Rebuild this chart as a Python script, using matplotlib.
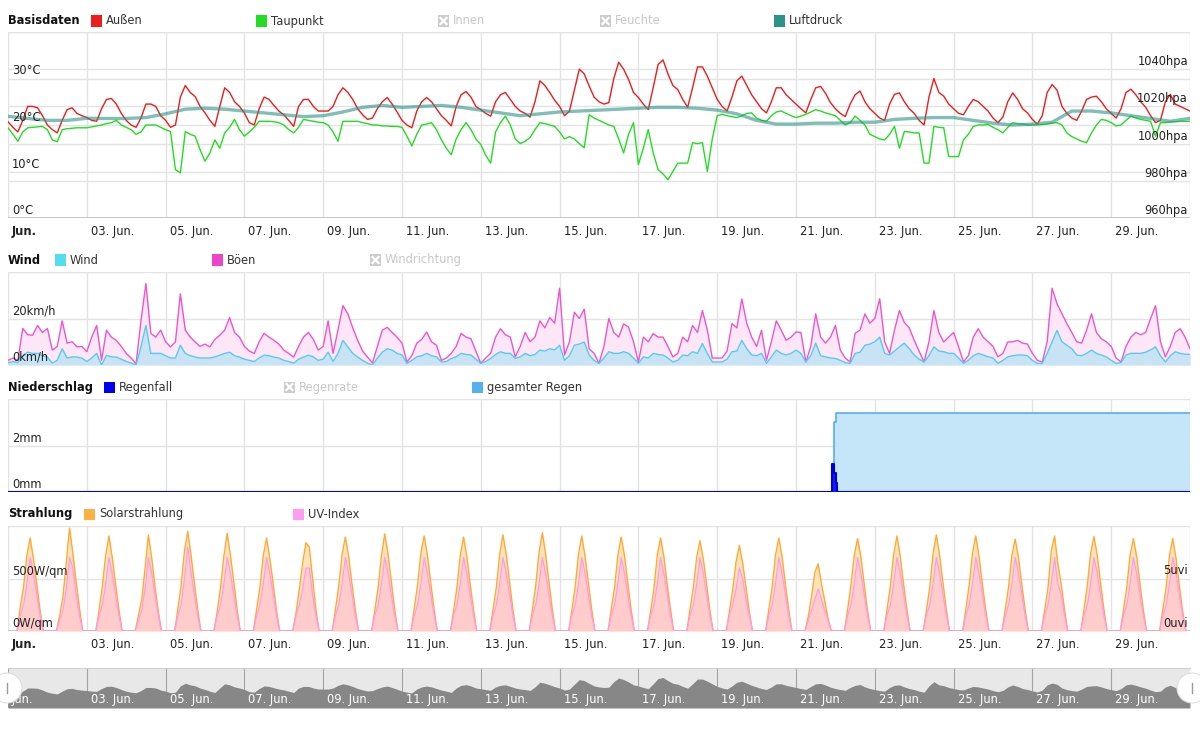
import matplotlib
matplotlib.use("Agg")
import matplotlib.pyplot as plt
import matplotlib.dates as mdates
import matplotlib.transforms as mtransforms
from matplotlib.patches import Rectangle, Circle
import pandas as pd

# ---- data (June, 3-hourly unless noted) ----
temp_out = [
    20.7, 19.5, 18.5, 21.0, 24.0, 24.0, 23.7, 22.0,
    20.0, 19.0, 18.3, 21.0, 23.3, 23.7, 22.5, 22.0,
    21.6, 21.0, 20.8, 23.5, 25.5, 25.7, 24.5, 22.5,
    21.0, 20.0, 19.5, 21.5, 24.5, 24.5, 24.0, 22.0,
    21.0, 19.5, 20.0, 26.0, 28.5, 27.0, 26.1, 24.0,
    22.6, 21.0, 19.7, 24.0, 28.0, 27.0, 25.0, 24.0,
    22.6, 20.5, 20.0, 23.5, 26.0, 25.5, 24.2, 23.0,
    22.2, 21.0, 19.7, 24.0, 25.5, 25.5, 24.0, 23.0,
    23.0, 23.0, 24.0, 26.5, 28.0, 27.0, 25.5, 23.5,
    22.2, 21.2, 21.5, 23.5, 25.0, 25.9, 24.5, 22.8,
    21.0, 20.0, 19.4, 23.0, 25.0, 25.9, 25.0, 23.5,
    22.0, 21.0, 19.8, 24.0, 26.5, 27.2, 26.0, 24.0,
    23.3, 22.5, 21.9, 25.0, 26.5, 27.0, 25.5, 24.0,
    23.0, 22.5, 21.7, 25.0, 29.5, 28.5, 27.0, 25.3,
    24.0, 22.0, 23.0, 27.5, 32.0, 31.0, 28.4, 26.0,
    25.0, 24.5, 24.8, 30.0, 33.5, 32.0, 29.8, 27.0,
    25.9, 24.5, 23.3, 28.0, 33.0, 34.0, 31.0, 28.5,
    27.6, 25.5, 23.8, 28.0, 32.5, 32.5, 30.5, 28.0,
    25.5, 24.0, 23.0, 26.0, 29.5, 30.5, 28.5, 26.5,
    25.0, 23.5, 22.6, 25.0, 28.0, 28.0, 26.5, 25.5,
    24.5, 23.5, 22.6, 25.5, 28.0, 28.3, 26.8, 24.8,
    23.5, 22.5, 21.8, 24.5, 26.5, 27.3, 25.0, 23.5,
    22.5, 21.5, 21.0, 24.5, 26.6, 26.9, 25.0, 23.5,
    22.5, 21.0, 20.0, 26.0, 30.0, 27.0, 26.2, 24.5,
    23.5, 22.5, 22.2, 24.0, 25.5, 25.0, 24.0, 23.0,
    21.5, 20.5, 21.7, 25.0, 26.9, 25.5, 23.5, 22.6,
    21.2, 20.2, 22.0, 27.0, 28.7, 27.5, 24.0, 22.5,
    21.5, 21.0, 23.0, 25.5, 26.0, 26.2, 25.0, 23.5,
    22.5, 21.5, 23.5, 27.0, 27.7, 26.5, 25.0, 23.8,
    22.0, 20.5, 21.0, 25.0, 26.6, 24.5, 24.0, 23.5,
    23.0,
]

dew_point = [
    19.4, 18.0, 16.5, 18.5, 19.4, 19.5, 19.6, 19.7,
    19.0, 16.8, 16.4, 19.0, 19.2, 19.3, 19.4, 19.4,
    19.4, 19.6, 19.8, 20.0, 20.3, 20.5, 21.0, 20.0,
    19.5, 19.0, 18.0, 18.5, 20.0, 20.0, 20.0, 19.5,
    19.0, 18.6, 10.4, 9.7, 18.6, 18.0, 17.6, 14.7,
    12.2, 14.0, 16.8, 15.0, 18.3, 19.5, 21.2, 19.0,
    17.6, 18.5, 19.5, 20.8, 20.8, 20.8, 20.7, 20.5,
    20.0, 19.0, 18.3, 19.5, 21.2, 21.0, 20.8, 20.6,
    20.5, 20.0, 18.5, 16.5, 20.8, 20.8, 20.8, 20.8,
    20.5, 20.3, 20.0, 20.0, 19.8, 19.8, 19.7, 19.7,
    19.5, 17.6, 15.5, 18.0, 20.0, 20.2, 20.5, 19.0,
    16.8, 15.0, 13.6, 17.0, 19.0, 20.5, 19.0, 17.0,
    15.8, 13.5, 11.8, 18.5, 20.5, 21.9, 20.0, 17.0,
    16.0, 16.5, 17.3, 19.0, 20.5, 20.3, 20.0, 19.7,
    18.5, 17.0, 17.5, 17.0, 16.0, 15.1, 22.2, 21.5,
    21.0, 20.5, 20.0, 19.7, 17.0, 14.0, 18.0, 20.5,
    11.5, 15.0, 19.0, 14.0, 10.4, 9.5, 8.2, 10.0,
    11.8, 11.8, 11.8, 16.2, 16.0, 16.2, 10.0, 17.0,
    22.0, 22.3, 22.0, 21.8, 21.6, 22.0, 22.5, 22.6,
    21.5, 21.0, 20.8, 22.0, 22.8, 23.0, 22.5, 22.0,
    21.6, 21.9, 22.3, 22.8, 23.3, 23.0, 22.6, 22.3,
    22.0, 21.0, 20.0, 20.5, 21.9, 21.0, 20.0, 18.0,
    17.5, 17.0, 16.8, 18.0, 19.7, 15.0, 18.6, 18.5,
    18.3, 18.3, 11.8, 11.8, 19.7, 19.5, 19.4, 13.2,
    13.2, 13.2, 16.8, 18.0, 19.7, 20.0, 20.0, 20.1,
    19.5, 19.0, 18.3, 19.5, 20.5, 20.3, 20.2, 20.0,
    20.0, 20.0, 20.1, 20.2, 20.4, 20.5, 20.0, 18.3,
    17.5, 17.0, 16.5, 16.2, 18.3, 20.0, 21.2, 21.0,
    20.5, 19.8, 20.0, 21.0, 21.9, 21.5, 21.2, 21.0,
    20.8, 17.6, 20.5, 20.5, 20.7, 20.7, 20.8, 20.8,
    20.8,
]

# 12-hourly
pressure = [
    1014.7, 1013.5, 1012.5, 1012.5, 1013.6, 1013.5, 1013.5, 1014.0,
    1016.0, 1018.5, 1019.0, 1018.5, 1017.5, 1016.5, 1015.5, 1014.5,
    1015.0, 1017.0, 1019.5, 1020.5, 1019.5, 1020.0, 1020.5, 1019.5,
    1018.0, 1016.5, 1015.0, 1016.0, 1017.0, 1017.5, 1018.0, 1018.5,
    1019.0, 1019.5, 1019.5, 1019.0, 1018.0, 1016.0, 1012.5, 1010.5,
    1010.5, 1011.0, 1011.0, 1011.5, 1011.5, 1013.0, 1013.6, 1014.0,
    1014.0, 1012.5, 1011.0, 1010.0, 1010.5, 1011.5, 1017.5, 1017.5,
    1016.5, 1015.0, 1013.5, 1012.0, 1013.6,
]

wind = [
    1.0, 1.5, 1.0, 4.2, 5.5, 5.0, 5.0, 4.0,
    3.4, 0.8, 2.0, 7.0, 3.0, 3.5, 3.4, 3.0,
    1.5, 3.0, 5.0, 0.0, 4.2, 3.5, 3.4, 2.5,
    1.5, 0.8, 0.0, 7.8, 17.0, 5.0, 5.0, 5.0,
    4.0, 3.0, 3.0, 8.5, 5.0, 4.0, 3.4, 3.0,
    3.0, 3.0, 3.5, 4.2, 5.0, 5.5, 4.0, 3.4,
    2.5, 2.0, 1.5, 3.0, 4.2, 4.0, 3.4, 3.0,
    2.0, 1.5, 0.8, 2.5, 3.4, 4.2, 3.5, 2.0,
    2.5, 5.5, 1.5, 5.0, 10.6, 7.8, 5.0, 3.4,
    2.0, 0.8, 0.0, 3.0, 5.5, 7.0, 6.4, 5.0,
    4.3, 0.7, 2.0, 3.5, 4.0, 5.0, 4.0, 3.5,
    1.3, 1.5, 2.8, 3.5, 5.0, 4.5, 4.3, 2.5,
    0.7, 1.5, 2.8, 4.5, 5.7, 5.0, 5.0, 2.8,
    3.5, 5.0, 4.0, 4.5, 6.4, 6.0, 7.0, 6.5,
    8.5, 2.0, 4.0, 8.5, 9.0, 9.9, 4.3, 2.0,
    0.7, 3.0, 5.7, 5.0, 5.0, 5.7, 5.0, 3.0,
    0.7, 3.5, 3.0, 5.0, 4.5, 4.3, 3.0, 1.3,
    2.0, 4.3, 4.0, 5.7, 5.0, 9.2, 5.0, 1.3,
    1.3, 1.3, 2.5, 5.7, 6.0, 10.6, 7.0, 4.3,
    4.0, 5.0, 0.7, 3.5, 6.4, 5.0, 4.3, 5.0,
    6.4, 5.0, 1.3, 4.0, 9.4, 4.0, 3.5, 3.0,
    2.8, 2.0, 1.0, 0.7, 5.0, 5.5, 8.5, 9.0,
    10.0, 12.0, 5.0, 4.3, 6.0, 7.8, 9.4, 7.0,
    4.3, 2.5, 1.3, 4.0, 7.8, 6.0, 5.7, 5.0,
    5.0, 3.0, 0.7, 2.0, 4.0, 5.0, 4.3, 3.5,
    3.0, 0.7, 2.0, 3.5, 4.0, 4.3, 4.3, 4.0,
    2.0, 0.7, 0.7, 5.0, 9.9, 14.9, 10.0, 8.5,
    7.0, 4.3, 4.0, 5.0, 6.4, 5.0, 4.3, 3.5,
    2.0, 0.7, 1.0, 4.3, 5.0, 5.0, 5.0, 5.5,
    6.5, 7.8, 4.0, 1.3, 4.0, 5.7, 5.0, 4.6,
    4.6,
]

gusts = [
    2.0, 3.0, 2.0, 15.7, 13.0, 12.8, 17.0, 14.0,
    15.7, 6.4, 8.0, 19.0, 9.4, 10.0, 7.8, 8.0,
    5.7, 12.0, 17.0, 2.1, 15.0, 12.0, 10.6, 8.0,
    5.0, 3.0, 0.5, 19.0, 35.0, 13.6, 12.0, 15.0,
    10.0, 7.8, 10.0, 30.6, 15.0, 12.0, 9.9, 8.0,
    9.0, 7.8, 11.0, 12.8, 15.0, 20.4, 14.0, 12.0,
    8.0, 6.0, 5.0, 10.0, 13.6, 12.0, 10.6, 9.0,
    6.4, 5.0, 3.4, 8.0, 12.0, 14.0, 11.0, 6.4,
    8.0, 19.0, 5.0, 15.0, 25.5, 22.0, 16.0, 10.6,
    6.0, 3.4, 0.9, 8.0, 15.0, 16.2, 14.0, 12.0,
    9.4, 1.3, 4.0, 9.4, 11.0, 14.2, 10.0, 8.5,
    2.0, 3.0, 5.0, 8.0, 13.6, 12.0, 11.3, 6.0,
    0.7, 3.0, 5.0, 12.0, 15.6, 13.0, 12.0, 3.5,
    8.0, 14.0, 10.0, 12.0, 19.0, 16.0, 20.4, 18.0,
    33.0, 4.3, 10.0, 22.7, 20.0, 24.0, 7.0, 5.0,
    0.7, 8.0, 20.0, 14.0, 12.0, 17.7, 16.3, 10.0,
    1.3, 12.0, 10.0, 13.5, 12.0, 12.0, 8.0, 3.5,
    5.0, 12.0, 10.0, 17.0, 14.0, 23.4, 15.0, 3.0,
    3.0, 3.0, 6.0, 17.8, 16.0, 28.4, 18.0, 12.0,
    8.0, 14.9, 2.0, 10.0, 19.0, 15.0, 10.6, 12.0,
    14.2, 14.0, 1.3, 8.0, 22.0, 12.0, 9.4, 12.0,
    17.0, 6.4, 3.0, 1.3, 13.6, 15.0, 22.0, 18.0,
    20.0, 28.5, 10.0, 5.0, 15.0, 23.4, 18.3, 16.0,
    10.6, 6.0, 1.3, 10.0, 23.4, 14.0, 9.9, 12.0,
    14.0, 8.0, 1.3, 4.0, 12.0, 15.6, 12.0, 10.0,
    8.0, 3.5, 5.0, 9.9, 10.0, 10.6, 9.4, 9.0,
    5.0, 2.0, 1.3, 10.0, 33.0, 26.3, 22.0, 17.8,
    14.0, 10.0, 9.4, 15.0, 22.0, 14.0, 11.3, 10.0,
    8.0, 3.0, 1.3, 8.0, 12.0, 14.0, 13.0, 14.0,
    20.0, 25.5, 10.0, 3.5, 8.0, 14.0, 15.6, 12.0,
    7.0,
]

# rain event in the night 21./22. June
rain_times = ["2019-06-01 00:00", "2019-06-21 22:00", "2019-06-21 23:15",
              "2019-06-22 00:20", "2019-06-22 01:10", "2019-07-01 00:00"]
rain_fall = [0.0, 1.2, 0.8, 0.4, 0.0, 0.0]
total_times = ["2019-06-01 00:00", "2019-06-21 23:25", "2019-06-22 00:05",
               "2019-07-01 00:00"]
total_rain = [0.0, 3.0, 3.4, 3.4]

# radiation: one row per day, values at these local hours
rad_hours = [5.5, 7.5, 9.5, 11.5, 13.5, 15.5, 17.5, 19.5, 21.5]
solar_rows = [
    [0, 230, 420, 720, 885, 690, 450, 200, 0],
    [0, 150, 330, 660, 980, 740, 470, 220, 0],
    [0, 200, 430, 720, 905, 700, 450, 210, 0],
    [0, 150, 300, 600, 915, 700, 430, 190, 0],
    [0, 210, 440, 760, 950, 720, 460, 210, 0],
    [0, 190, 420, 710, 930, 720, 470, 210, 0],
    [0, 210, 420, 720, 885, 690, 450, 200, 0],
    [0, 180, 400, 650, 840, 800, 500, 210, 0],
    [0, 210, 430, 730, 895, 710, 450, 210, 0],
    [0, 200, 420, 720, 925, 730, 470, 210, 0],
    [0, 220, 440, 740, 905, 720, 460, 210, 0],
    [0, 200, 420, 720, 895, 710, 450, 210, 0],
    [0, 210, 420, 730, 915, 730, 470, 210, 0],
    [0, 210, 440, 750, 935, 730, 470, 210, 0],
    [0, 200, 420, 730, 905, 710, 460, 210, 0],
    [0, 210, 420, 720, 895, 720, 460, 210, 0],
    [0, 190, 410, 720, 885, 710, 450, 210, 0],
    [0, 210, 420, 700, 860, 690, 450, 200, 0],
    [0, 190, 400, 660, 815, 650, 420, 190, 0],
    [0, 210, 420, 720, 885, 710, 450, 210, 0],
    [0, 140, 330, 560, 640, 450, 290, 120, 0],
    [0, 210, 440, 720, 880, 710, 450, 200, 0],
    [0, 210, 430, 730, 905, 710, 450, 210, 0],
    [0, 200, 420, 740, 915, 720, 460, 210, 0],
    [0, 210, 440, 740, 905, 710, 450, 210, 0],
    [0, 210, 420, 720, 875, 700, 450, 210, 0],
    [0, 200, 410, 760, 905, 640, 450, 210, 0],
    [0, 210, 440, 740, 900, 720, 460, 210, 0],
    [0, 200, 420, 720, 880, 710, 450, 210, 0],
    [0, 210, 420, 720, 880, 690, 430, 190, 0],
]
uv_rows = [
    [0, 1.5, 2.5, 4.5, 7, 5.5, 3.5, 1.5, 0],
    [0, 1.0, 2.0, 4.0, 7, 6.0, 3.5, 1.5, 0],
    [0, 1.5, 2.5, 4.5, 7, 5.5, 3.5, 1.5, 0],
    [0, 1.0, 2.0, 4.0, 7, 5.5, 3.5, 1.5, 0],
    [0, 1.5, 2.5, 5.0, 8, 5.5, 3.5, 1.5, 0],
    [0, 1.5, 2.5, 4.5, 7, 5.5, 3.5, 1.5, 0],
    [0, 1.5, 2.5, 4.5, 7, 5.5, 3.5, 1.5, 0],
    [0, 1.5, 2.5, 4.0, 6, 6.0, 3.5, 1.5, 0],
    [0, 1.5, 2.5, 4.5, 7, 5.5, 3.5, 1.5, 0],
    [0, 1.5, 2.5, 4.5, 7, 5.5, 3.5, 1.5, 0],
    [0, 1.5, 2.5, 4.5, 7, 5.5, 3.5, 1.5, 0],
    [0, 1.5, 2.5, 4.5, 7, 5.5, 3.5, 1.5, 0],
    [0, 1.5, 2.5, 4.5, 7, 5.5, 3.5, 1.5, 0],
    [0, 1.5, 2.5, 4.5, 7, 5.5, 3.5, 1.5, 0],
    [0, 1.5, 2.5, 4.5, 7, 5.5, 3.5, 1.5, 0],
    [0, 1.5, 2.5, 4.5, 7, 5.5, 3.5, 1.5, 0],
    [0, 1.5, 2.5, 4.5, 7, 5.5, 3.5, 1.5, 0],
    [0, 1.5, 2.5, 4.5, 7, 5.5, 3.5, 1.5, 0],
    [0, 1.5, 2.5, 4.0, 6, 5.0, 3.0, 1.5, 0],
    [0, 1.5, 2.5, 4.5, 7, 5.5, 3.5, 1.5, 0],
    [0, 1.0, 2.0, 3.0, 4, 3.0, 2.0, 1.0, 0],
    [0, 1.5, 2.5, 4.5, 7, 5.5, 3.5, 1.5, 0],
    [0, 1.5, 2.5, 4.5, 7, 5.5, 3.5, 1.5, 0],
    [0, 1.5, 2.5, 4.5, 7, 5.5, 3.5, 1.5, 0],
    [0, 1.5, 2.5, 4.5, 7, 5.5, 3.5, 1.5, 0],
    [0, 1.5, 2.5, 4.5, 7, 5.5, 3.5, 1.5, 0],
    [0, 1.5, 2.5, 4.5, 7, 4.5, 3.5, 1.5, 0],
    [0, 1.5, 2.5, 4.5, 7, 5.5, 3.5, 1.5, 0],
    [0, 1.5, 2.5, 4.5, 7, 5.5, 3.5, 1.5, 0],
    [0, 1.5, 2.5, 4.5, 7, 5.5, 3.5, 1.5, 0],
]

# ---- time bases ----
T0 = pd.Timestamp("2019-06-01")
T1 = pd.Timestamp("2019-07-01")
t3 = pd.date_range(T0, periods=len(temp_out), freq="3h").to_pydatetime()
t12 = pd.date_range(T0, periods=len(pressure), freq="12h").to_pydatetime()
rad_t = [(T0 + pd.Timedelta(days=d, hours=h)).to_pydatetime()
         for d in range(len(solar_rows)) for h in rad_hours]
solar = [v for row in solar_rows for v in row]
uv = [v for row in uv_rows for v in row]
rain_t = pd.to_datetime(rain_times).to_pydatetime()
total_t = pd.to_datetime(total_times).to_pydatetime()
ticks = pd.date_range(T0, T1, freq="2D").to_pydatetime()

plt.rcParams["font.family"] = ["DejaVu Sans"]
plt.rcParams["font.size"] = 8

W, H = 1200, 750
fig = plt.figure(figsize=(W / 100, H / 100), dpi=100)


def px_box(top, bottom):
    return [8 / W, 1 - bottom / H, 1182 / W, (bottom - top) / H]


GRID = "#e3e3e3"
TXT = "#333333"
FS = 8.3


def setup(ax, lo, hi, yticks):
    ax.set_xlim(T0, T1)
    ax.set_ylim(lo, hi)
    ax.set_xticks(ticks)
    ax.set_yticks(yticks)
    ax.tick_params(length=0, labelbottom=False, labelleft=False)
    ax.grid(True, color=GRID, lw=1)
    ax.set_axisbelow(True)
    for s in ax.spines.values():
        s.set_visible(False)
    ax.axhline(lo, color="#c0c0c0", lw=1.2, zorder=1)


def ylab(ax, vals, unit, side="left"):
    # figure-level text so it sits above every series
    x0, dx, ha = (0, 4, "left") if side == "left" else (1, -2, "right")
    tr = mtransforms.offset_copy(ax.get_yaxis_transform(), fig=fig, x=dx, y=1, units="dots")
    for v in vals:
        fig.text(x0, v, f"{v:g}{unit}", transform=tr, ha=ha, va="bottom",
                 color="#222222", fontsize=FS)


def xlab(ax, dy, color="#222222", va="top", bold_first=True, zorder=3):
    tr = mtransforms.offset_copy(ax.get_xaxis_transform(), fig=fig, x=4, y=dy, units="dots")
    for d in ticks[:-1]:
        first = d == ticks[0]
        label = "Jun." if first else d.strftime("%d. Jun.")
        fig.text(mdates.date2num(d), 0, label, transform=tr, ha="left", va=va, color=color,
                 fontsize=FS, fontweight="bold" if (first and bold_first) else "normal",
                 zorder=zorder)


def fx(x):
    return x / W


def fy(y):
    return 1 - y / H


def legend_row(y, title, items):
    fig.text(fx(8), fy(y), title, ha="left", va="center", fontweight="bold",
             color="#111111", fontsize=FS)
    for x, color, label in items:
        if color is None:
            fig.add_artist(Rectangle((fx(x), fy(y + 5.5)), 11 / W, 11 / H,
                                     transform=fig.transFigure, color="#cccccc", lw=0))
            for a, b in [((x + 2.5, y - 3), (x + 8.5, y + 3)), ((x + 2.5, y + 3), (x + 8.5, y - 3))]:
                fig.add_artist(plt.Line2D([fx(a[0]), fx(b[0])], [fy(a[1]), fy(b[1])],
                                          transform=fig.transFigure, color="white", lw=1.6))
            tcol = "#c8c8c8"
        else:
            fig.add_artist(Rectangle((fx(x), fy(y + 5.5)), 11 / W, 11 / H,
                                     transform=fig.transFigure, color=color, lw=0))
            tcol = TXT
        fig.text(fx(x + 15), fy(y), label, ha="left", va="center", color=tcol, fontsize=FS)


# ---- Basisdaten ----
ax1 = fig.add_axes(px_box(32, 218))
temp_ticks = [0, 10, 20, 30, 40]
press_ticks = [960, 980, 1000, 1020, 1040, 1060]
setup(ax1, 0, 40, temp_ticks + [(p - 960) / 100 * 40 for p in press_ticks])
ax1.plot(t3, temp_out, color="#ee1c1c", lw=1, zorder=3)
ax1.plot(t3, dew_point, color="#22dd22", lw=1, zorder=3)
ax1p = ax1.twinx()
ax1p.set_xlim(T0, T1)
ax1p.set_ylim(960, 1060)
ax1p.axis("off")
ax1p.plot(t12, pressure, color="#2b9488", lw=2.4, alpha=0.6, zorder=3)
ylab(ax1, [0, 10, 20, 30], "°C")
ylab(ax1p, [960, 980, 1000, 1020, 1040], "hpa", side="right")
xlab(ax1, -7)
legend_row(21, "Basisdaten", [(91, "#ee1c1c", "Außen"), (256, "#22dd22", "Taupunkt"),
                              (438, None, "Innen"), (600, None, "Feuchte"),
                              (774, "#2b9488", "Luftdruck")])

# ---- Wind ----
ax2 = fig.add_axes(px_box(272, 365))
setup(ax2, 0, 40, [0, 20, 40])
ax2.fill_between(t3, 0, gusts, color="#fde6f6", lw=0, zorder=2)
ax2.fill_between(t3, 0, wind, color="#c7e3f4", lw=0, zorder=2)
ax2.plot(t3, gusts, color="#ee55cc", lw=1, zorder=3)
ax2.plot(t3, wind, color="#55ccee", lw=1, zorder=3)
ylab(ax2, [0, 20], "km/h")
legend_row(260, "Wind", [(55, "#55ddee", "Wind"), (212, "#ee44cc", "Böen"),
                         (370, None, "Windrichtung")])

# ---- Niederschlag ----
ax3 = fig.add_axes(px_box(399, 492))
setup(ax3, 0, 4, [0, 2, 4])
ax3.fill_between(total_t, 0, total_rain, step="post", color="#c5e5f9", lw=0, zorder=2)
ax3.step(total_t, total_rain, where="post", color="#55b0f0", lw=1.2, zorder=3)
ax3.fill_between(rain_t, 0, rain_fall, step="post", color="#1a1aee", lw=0, zorder=4)
ax3.step(rain_t, rain_fall, where="post", color="#0000dd", lw=1.5, zorder=4)
ylab(ax3, [0, 2], "mm")
legend_row(387, "Niederschlag", [(104, "#0000ee", "Regenfall"), (284, None, "Regenrate"),
                                 (472, "#55b0f0", "gesamter Regen")])

# ---- Strahlung ----
ax4 = fig.add_axes(px_box(526, 631))
setup(ax4, 0, 1000, [0, 500, 1000])
ax4.fill_between(rad_t, 0, solar, color="#ffe3bc", lw=0, zorder=2)
ax4.plot(rad_t, solar, color="#ffaa33", lw=1, zorder=3)
ax4u = ax4.twinx()
ax4u.set_xlim(T0, T1)
ax4u.set_ylim(0, 10)
ax4u.axis("off")
ax4u.fill_between(rad_t, 0, uv, color="#ffaae6", alpha=0.4, lw=0, zorder=2)
ax4u.plot(rad_t, uv, color="#ff99ee", lw=0.9, zorder=3)
ylab(ax4, [0, 500], "W/qm")
ylab(ax4u, [0, 5], "uvi", side="right")
xlab(ax4, -7)
legend_row(514, "Strahlung", [(84, "#ffb040", "Solarstrahlung"), (293, "#ff9cf0", "UV-Index")])

# ---- Navigator ----
axn = fig.add_axes(px_box(668, 708))
axn.set_xlim(T0, T1)
axn.set_ylim(5, 43)
axn.set_facecolor("#e8e8e8")
for s in axn.spines.values():
    s.set_visible(False)
axn.spines["top"].set_visible(True)
axn.spines["top"].set_color("#cfcfcf")
axn.set_xticks(ticks)
axn.set_yticks([])
axn.tick_params(length=0, labelbottom=False)
axn.fill_between(t3, 5, temp_out, color="#878787", lw=0, zorder=2)
axn.grid(True, axis="x", color="#a2a2a2", lw=0.8, zorder=3)
xlab(axn, 9, color="#ffffff", va="center", bold_first=False, zorder=2)
for xh in (fx(7), fx(1192)):
    fig.add_artist(Circle((xh * W, fy(688) * H), 15, transform=mtransforms.IdentityTransform(),
                          facecolor="white", edgecolor="#dddddd", lw=0.8, zorder=20))
    fig.add_artist(plt.Line2D([xh, xh], [fy(683), fy(693)], transform=fig.transFigure,
                              color="#999999", lw=1, zorder=21))

fig.savefig("out.png", dpi=100, facecolor="white")
